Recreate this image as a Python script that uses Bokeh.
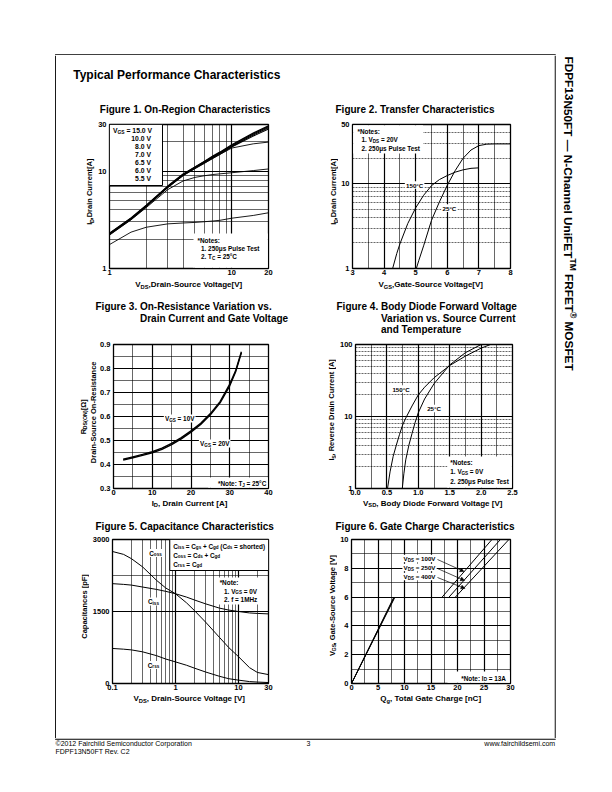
import math
from bokeh.plotting import figure
from bokeh.layouts import column, row
from bokeh.models import (Range1d, LinearScale, FixedTicker, Grid,
                          ColumnDataSource, Arrow, NormalHead)
from bokeh.core.properties import value, field
from bokeh.embed import file_html
from bokeh.resources import INLINE

FONT = "Liberation Sans"
NAN = float("nan")

# ============================ DATA ============================
# Figure 1 - On-Region Characteristics (VDS [V] vs ID [A])
f1_vds = [1, 1.5, 2, 3, 4, 5, 6, 7, 8, 10, 15, 20]
f1_id_15v0 = [2.30, 3.30, 4.45, 7.00, 9.30, 11.0, 12.6, 14.2, 15.6, 18.6, 24.5, 29.0]
f1_id_10v0 = [2.28, 3.27, 4.41, 6.95, 9.22, 10.9, 12.5, 14.0, 15.4, 18.3, 24.0, 28.4]
f1_id_8v0 = [2.26, 3.24, 4.37, 6.88, 9.12, 10.8, 12.3, 13.8, 15.2, 17.9, 23.4, 27.8]
f1_id_7v0 = [2.25, 3.22, 4.33, 6.82, 9.02, 10.65, 12.15, 13.55, 14.85, 17.6, 22.8, 27.0]
f1_id_6v5 = [2.22, 3.18, 4.30, 6.75, 8.95, 10.55, 12.0, 13.5, 14.8, 17.2, 19.0, 19.8]
f1_id_6v0 = [2.20, 3.15, 4.22, 6.45, 7.90, 8.60, 8.95, 9.20, 9.35, 9.60, 10.1, 10.5]
f1_id_5v5 = [1.76, 2.36, 2.65, 2.87, 2.93, 2.97, 3.02, 3.07, 3.12, 3.28, 3.50, 3.73]
f1_legend = ["15.0 V", "10.0 V", "8.0 V", "7.0 V", "6.5 V", "6.0 V", "5.5 V"]
f1_xticks = [1, 10, 20]
f1_xlabels = ["1", "10", "20"]
f1_yticks = [1, 10, 30]
f1_ylabels = ["1", "10", "30"]

# Figure 2 - Transfer Characteristics (VGS [V] vs ID [A])
f2_vgs_25c = [5.02, 5.1, 5.25, 5.5, 5.75, 6.0, 6.25, 6.5, 6.75, 7.0, 7.25, 7.5, 8.0]
f2_id_25c = [1.0, 1.25, 1.85, 3.7, 6.1, 9.6, 14.3, 20.0, 25.0, 28.2, 29.3, 29.5, 29.5]
f2_vgs_150c = [4.27, 4.4, 4.5, 4.75, 5.0, 5.25, 5.5, 5.75, 6.0, 6.25, 6.5, 6.75, 7.0]
f2_id_150c = [1.0, 1.5, 1.95, 3.4, 5.2, 7.3, 9.5, 11.2, 12.5, 13.7, 14.6, 15.2, 15.4]
f2_xticks = [3, 4, 5, 6, 7, 8]
f2_xlabels = ["3", "4", "5", "6", "7", "8"]
f2_yticks = [1, 10, 50]
f2_ylabels = ["1", "10", "50"]

# Figure 3 - On-Resistance vs Drain Current (ID [A] vs RDS(on) [ohm])
f3_id = [2.5, 5, 7.5, 10, 12.5, 15, 17.5, 20, 22.5, 25, 27.5, 30, 31.5, 33]
f3_r_10v = [0.422, 0.432, 0.442, 0.453, 0.468, 0.488, 0.512, 0.540, 0.572, 0.612, 0.662, 0.735, 0.790, 0.870]
f3_r_20v = [0.418, 0.428, 0.438, 0.449, 0.463, 0.483, 0.507, 0.535, 0.567, 0.607, 0.657, 0.728, 0.785, 0.865]
f3_xticks = [0, 10, 20, 30, 40]
f3_xlabels = ["0", "10", "20", "30", "40"]
f3_yticks = [0.3, 0.4, 0.5, 0.6, 0.7, 0.8, 0.9]
f3_ylabels = ["0.3", "0.4", "0.5", "0.6", "0.7", "0.8", "0.9"]

# Figure 4 - Body Diode Forward Voltage (VSD [V] vs IS [A])
f4_vsd_150c = [0.51, 0.55, 0.6, 0.65, 0.7, 0.75, 0.8, 0.9, 1.0, 1.1, 1.25, 1.5, 1.75, 2.0, 2.15]
f4_is_150c = [1.0, 1.7, 2.8, 4.0, 5.6, 7.6, 9.5, 14.0, 20.0, 25.5, 34.5, 51.0, 69.0, 89.0, 100.0]
f4_vsd_25c = [0.745, 0.77, 0.8, 0.85, 0.9, 0.95, 1.0, 1.1, 1.25, 1.5, 1.75, 2.0]
f4_is_25c = [1.0, 1.6, 2.5, 4.0, 5.8, 8.3, 11.3, 17.5, 28.5, 52.0, 77.0, 100.0]
f4_xticks = [0.0, 0.5, 1.0, 1.5, 2.0, 2.5]
f4_xlabels = ["0.0", "0.5", "1.0", "1.5", "2.0", "2.5"]
f4_yticks = [1, 10, 100]
f4_ylabels = ["1", "10", "100"]

# Figure 5 - Capacitance Characteristics (VDS [V] vs C [pF])
f5_vds = [0.1, 0.15, 0.2, 0.3, 0.5, 0.7, 1, 1.5, 2, 3, 5, 7, 10, 15, 20, 30]
f5_ciss = [2080, 2065, 2050, 2010, 1960, 1920, 1870, 1800, 1740, 1660, 1570, 1530, 1500, 1470, 1460, 1450]
f5_coss = [2750, 2690, 2600, 2430, 2150, 1990, 1870, 1680, 1520, 1280, 960, 750, 560, 330, 230, 185]
f5_crss = [730, 715, 700, 660, 580, 510, 450, 380, 320, 240, 150, 100, 70, 40, 30, 20]
f5_xticks = [0.1, 1, 10, 30]
f5_xlabels = ["0.1", "1", "10", "30"]
f5_yticks = [0, 1500, 3000]
f5_ylabels = ["0", "1500", "3000"]

# Figure 6 - Gate Charge Characteristics (Qg [nC] vs VGS [V])
f6_q_100v = [0, 8.0, NAN, 17.1, 26.5]
f6_q_250v = [0, 8.1, NAN, 18.4, 28.1]
f6_q_400v = [0, 8.2, NAN, 19.6, 29.7]
f6_vgs = [0, 6, NAN, 6, 10]
f6_legend = ["100V", "250V", "400V"]
f6_xticks = [0, 5, 10, 15, 20, 25, 30]
f6_xlabels = ["0", "5", "10", "15", "20", "25", "30"]
f6_yticks = [0, 2, 4, 6, 8, 10]
f6_ylabels = ["0", "2", "4", "6", "8", "10"]

# ============================ TEXT HELPERS ============================
def _table(groups):
    d = {}
    for chars, w in groups:
        for c in chars:
            d[c] = w
    return d

REG_W = _table([
    (" ,.:;!/[]tfI", 278), ("ijl", 222), ("-r()", 333), ("*", 389), ("°", 400),
    ("cksvxyzJ", 500), ("0123456789abdeghnopquL?", 556), ("μ", 577), ("+=", 584),
    ("FTZ", 611), ("ABEKPSVXY", 667), ("CDHNRUw", 722), ("©®", 737), ("Ω", 768),
    ("GOQ", 778), ("Mm", 833), ("W", 944), ("—™", 1000)])
BOLD_W = _table([
    (" ,.ijlI!/", 278), ("-()[]:;tf", 333), ("r*", 389), ("°", 400), ("z", 500),
    ("0123456789aceksvxyJ?", 556), ("+=", 584), ("bdghnopquFLTZμ", 611),
    ("EPSVXY", 667), ("ABCDHKNRU", 722), ("©®", 737), ("Ω", 768), ("GOQw", 778),
    ("M", 833), ("m", 889), ("W", 944), ("—™", 1000)])


def tw(s, size, bold):
    t = BOLD_W if bold else REG_W
    return sum(t.get(c, 556) for c in s) * size / 1000.0


class Layer:
    """Texts and boxes given in page pixel coordinates, stored relative to an origin."""

    def __init__(self, ox, oy):
        self.ox, self.oy = ox, oy
        self.t = {k: [] for k in ("x", "y", "text", "size", "style", "angle")}
        self.b = {k: [] for k in ("left", "right", "top", "bottom")}
        self.bb = {k: [] for k in ("left", "right", "top", "bottom")}
        self.k = {k: [] for k in ("left", "right", "top", "bottom")}

    def box(self, x0, y0, x1, y1, border=False, black=False):
        d = self.k if black else (self.bb if border else self.b)
        d["left"].append(x0 - self.ox)
        d["right"].append(x1 - self.ox)
        d["top"].append(y0 - self.oy)
        d["bottom"].append(y1 - self.oy)

    def text(self, x, y, parts, size, bold=True, align="left", angle=0.0, bg=False):
        if isinstance(parts, str):
            parts = [(parts, "n")]
        ss = size * 0.72
        ws = [tw(t, size if k == "n" else ss, bold) for t, k in parts]
        W = sum(ws)
        pos = {"left": 0.0, "center": -W / 2.0, "right": -W}[align]
        dx, dy = math.cos(angle), -math.sin(angle)
        ux, uy = -math.sin(angle), -math.cos(angle)
        if bg:
            self.box(x + pos - 1.2, y - size * 0.62, x + pos + W + 1.2, y + size * 0.62)
        for (t, k), w in zip(parts, ws):
            s = size if k == "n" else ss
            sh = 0.0 if k == "n" else (-0.30 * size if k == "b" else 0.36 * size)
            # SVG drops leading blanks: advance past them instead
            lead = len(t) - len(t.lstrip(" "))
            adv = tw(" " * lead, s, bold)
            txt = t.strip(" ")
            if txt:
                self.t["x"].append(x - self.ox + dx * (pos + adv) + ux * sh)
                self.t["y"].append(y - self.oy + dy * (pos + adv) + uy * sh)
                self.t["text"].append(txt)
                self.t["size"].append("%.2fpx" % s)
                self.t["style"].append("bold" if bold else "normal")
                self.t["angle"].append(angle)
            pos += w

    def draw(self, p, rn=None):
        kw = {"x_range_name": rn, "y_range_name": rn} if rn else {}
        if self.k["left"]:
            p.quad(source=ColumnDataSource(self.k), left="left", right="right",
                   top="top", bottom="bottom", fill_color="black", line_color=None, **kw)
        if self.b["left"]:
            p.quad(source=ColumnDataSource(self.b), left="left", right="right",
                   top="top", bottom="bottom", fill_color="white", line_color=None, **kw)
        if self.bb["left"]:
            p.quad(source=ColumnDataSource(self.bb), left="left", right="right",
                   top="top", bottom="bottom", fill_color="white", line_color="black",
                   line_width=1.0, **kw)
        if self.t["x"]:
            p.text(source=ColumnDataSource(self.t), x="x", y="y", text="text",
                   text_font=value(FONT), text_font_size=field("size"),
                   text_font_style=field("style"), angle="angle",
                   text_align="left", text_baseline="middle", text_color="black", **kw)


def text_fig(layer, w, h):
    p = figure(width=w, height=h, x_range=Range1d(0, w), y_range=Range1d(h, 0),
               min_border=0, toolbar_location=None, output_backend="svg",
               x_axis_location=None, y_axis_location=None, outline_line_color=None,
               background_fill_color="white", border_fill_color="white")
    p.grid.visible = False
    if layer is not None:
        layer.draw(p)
    return p


TB, BB = 6, 10


def ticks_map(ticks, labels):
    return {t: l for t, l in zip(ticks, labels)}


def make_chart(G, xr, yr, xtype, ytype, xt, xl, yt, yl, xg, xG, yg, yG, ydash="solid"):
    fx0, fy0, fx1, fy1 = G["frame"]
    fw, fh = fx1 - fx0, fy1 - fy0
    LB, cx1 = G["LB"], G["cx1"]
    p = figure(width=cx1 - (fx0 - LB), height=TB + fh + BB,
               x_range=Range1d(*xr), y_range=Range1d(*yr),
               x_axis_type=xtype, y_axis_type=ytype,
               min_border_left=LB, min_border_right=cx1 - fx1,
               min_border_top=TB, min_border_bottom=BB,
               toolbar_location=None, output_backend="svg",
               outline_line_color="black", outline_line_width=1.3,
               background_fill_color="white", border_fill_color="white")
    p.extra_x_ranges = {"px": Range1d(0, fw)}
    p.extra_y_ranges = {"px": Range1d(fh, 0)}
    p.extra_x_scales = {"px": LinearScale()}
    p.extra_y_scales = {"px": LinearScale()}
    for ax in p.axis:
        ax.axis_line_color = None
        ax.major_tick_line_color = None
        ax.minor_tick_line_color = None
        ax.major_tick_out = 0
        ax.major_tick_in = 0
        ax.major_label_text_font = FONT
        ax.major_label_text_font_size = "7.5px"
        ax.major_label_text_font_style = "bold"
        ax.major_label_text_color = "black"
    p.xaxis.ticker = FixedTicker(ticks=xt)
    p.xaxis.major_label_overrides = ticks_map(xt, xl)
    p.xaxis.major_label_standoff = 1
    p.yaxis.ticker = FixedTicker(ticks=yt)
    p.yaxis.major_label_overrides = ticks_map(yt, yl)
    p.yaxis.major_label_standoff = 3
    p.xgrid.ticker = FixedTicker(ticks=xg)
    p.ygrid.ticker = FixedTicker(ticks=yg)
    p.xgrid.grid_line_color = "black"
    p.xgrid.grid_line_width = 0.6
    p.ygrid.grid_line_color = "black"
    p.ygrid.grid_line_width = 0.6
    p.ygrid.grid_line_dash = ydash
    p.add_layout(Grid(dimension=0, ticker=FixedTicker(ticks=xG),
                      grid_line_color="black", grid_line_width=1.2))
    p.add_layout(Grid(dimension=1, ticker=FixedTicker(ticks=yG),
                      grid_line_color="black", grid_line_width=1.2))
    return p


def layers(G):
    fx0, fy0, fx1, fy1 = G["frame"]
    return (Layer(G["cx0"], G["ry0"]), Layer(G["cx0"], fy0 - TB),
            Layer(G["cx0"], fy1 + BB), Layer(fx0, fy0), Layer(fx0, fy0))


def assemble(G, tl, yl, xl, chart):
    fx0, fy0, fx1, fy1 = G["frame"]
    cw = G["cx1"] - G["cx0"]
    return column(
        text_fig(tl, cw, fy0 - TB - G["ry0"]),
        row(text_fig(yl, fx0 - G["LB"] - G["cx0"], TB + (fy1 - fy0) + BB), chart),
        text_fig(xl, cw, G["ry1"] - fy1 - BB),
    )


def sub(a, b, c):
    return [(a, "n"), (b, "b"), (c, "n")]


HALF_PI = math.pi / 2

# ============================ FIGURE 1 ============================
G1 = dict(cx0=56, cx1=305, ry0=100, ry1=290, frame=(109, 124, 268, 268), LB=14)
tl, yl, xl, u, o = layers(G1)
tl.text(99.3, 108.5, "Figure 1. On-Region Characteristics", 10)
yl.text(89, 196, sub("I", "D", ",Drain Current[A]"), 7.5, align="center", angle=HALF_PI)
xl.text(188.5, 284, sub("V", "DS", ",Drain-Source Voltage[V]"), 8, align="center")
p1 = make_chart(G1, (1, 20), (1, 30), "log", "log", f1_xticks, f1_xlabels, f1_yticks, f1_ylabels,
                [2, 3, 4, 5, 6, 7, 8, 9], [10], [2, 3, 4, 5, 6, 7, 8, 9, 20], [10])
u.box(109, 124, 162, 185, border=True)
u.text(112.5, 129.5, sub("V", "GS", " = " + f1_legend[0]), 6.8)
for lab, yy in zip(f1_legend[1:], [138.3, 146.3, 154.3, 162.3, 170.3, 178.3]):
    u.text(150.5, yy, lab, 6.8, align="right")
u.box(193, 233, 267.3, 267.3)
u.text(197, 240, "*Notes:", 6.4)
u.text(200.5, 248, "1. 250μs Pulse Test", 6.4)
u.text(200.5, 256, sub("2. T", "C", " = 25°C"), 6.4)
u.draw(p1, "px")
for ys, w in [(f1_id_15v0, 1.3), (f1_id_10v0, 1.2), (f1_id_8v0, 1.2), (f1_id_7v0, 1.1),
              (f1_id_6v5, 0.9), (f1_id_6v0, 0.9), (f1_id_5v5, 0.9)]:
    p1.line(f1_vds, ys, line_color="black", line_width=w)
cell1 = assemble(G1, tl, yl, xl, p1)

# ============================ FIGURE 2 ============================
G2 = dict(cx0=305, cx1=554, ry0=100, ry1=290, frame=(351, 124, 510, 268), LB=13)
tl, yl, xl, u, o = layers(G2)
tl.text(335, 108.5, "Figure 2. Transfer Characteristics", 10)
yl.text(333, 196, sub("I", "D", ",Drain Current[A]"), 7.5, align="center", angle=HALF_PI)
xl.text(430.5, 284, sub("V", "GS", ",Gate-Source Voltage[V]"), 8, align="center")
p2 = make_chart(G2, (3, 8), (1, 50), "linear", "log", f2_xticks, f2_xlabels, f2_yticks, f2_ylabels,
                [3.5, 4.5, 5.5, 6.5, 7.5], [4, 5, 6, 7],
                [2, 3, 4, 5, 6, 7, 8, 9, 20, 30, 40], [10], ydash="2 1")
u.box(351.7, 124.7, 422, 153)
u.text(356, 130.5, "*Notes:", 6.4)
u.text(360, 139, sub("1. V", "DS", " = 20V"), 6.4)
u.text(360, 147.5, "2. 250μs Pulse Test", 6.4)
u.draw(p2, "px")
p2.line(f2_vgs_150c, f2_id_150c, line_color="black", line_width=1.0)
p2.line(f2_vgs_25c, f2_id_25c, line_color="black", line_width=1.0)
o.text(413.5, 184.5, "150°C", 6.2, align="center", bg=True)
o.text(448.5, 207.7, "25°C", 6.2, align="center", bg=True)
o.draw(p2, "px")
cell2 = assemble(G2, tl, yl, xl, p2)

# ============================ FIGURE 3 ============================
G3 = dict(cx0=56, cx1=305, ry0=290, ry1=510, frame=(111, 344, 268, 488), LB=14)
tl, yl, xl, u, o = layers(G3)
tl.text(95, 306, "Figure 3. On-Resistance Variation vs.", 10)
tl.text(139.5, 317.5, "Drain Current and Gate Voltage", 10)
yl.text(82.5, 419, sub("R", "DS(ON)", " [Ω]"), 7.5, align="center", angle=HALF_PI)
yl.text(93, 419, "Drain-Source On-Resistance", 7.5, align="center", angle=HALF_PI)
xl.text(189, 502.5, sub("I", "D", ", Drain Current [A]"), 8, align="center")
p3 = make_chart(G3, (0, 40), (0.3, 0.9), "linear", "linear", f3_xticks, f3_xlabels, f3_yticks, f3_ylabels,
                [5, 15, 25, 35], [10, 20, 30],
                [0.35, 0.45, 0.55, 0.65, 0.75, 0.85], [0.4, 0.5, 0.6, 0.7, 0.8])
u.box(207, 477, 267.3, 487.3)
u.text(265.5, 483, sub("*Note: T", "J", " = 25°C"), 6.4, align="right")
u.draw(p3, "px")
p3.line(f3_id, f3_r_10v, line_color="black", line_width=1.4)
p3.line(f3_id, f3_r_20v, line_color="black", line_width=1.4)
o.text(178, 418, sub("V", "GS", " = 10V"), 6.4, align="center", bg=True)
o.text(213.5, 443, sub("V", "GS", " = 20V"), 6.4, align="center", bg=True)
o.draw(p3, "px")
cell3 = assemble(G3, tl, yl, xl, p3)

# ============================ FIGURE 4 ============================
G4 = dict(cx0=305, cx1=554, ry0=290, ry1=510, frame=(353, 344, 512, 488), LB=17)
tl, yl, xl, u, o = layers(G4)
tl.text(336, 306, "Figure 4. Body Diode Forward Voltage", 10)
tl.text(380.5, 317.5, "Variation vs. Source Current", 10)
tl.text(380.5, 329, "and Temperature", 10)
yl.text(331, 416, sub("I", "S", ", Reverse Drain Current [A]"), 7.5, align="center", angle=HALF_PI)
xl.text(432.5, 502.5, sub("V", "SD", ", Body Diode Forward Voltage [V]"), 8, align="center")
p4 = make_chart(G4, (0, 2.5), (1, 100), "linear", "log", f4_xticks, f4_xlabels, f4_yticks, f4_ylabels,
                [0.25, 0.75, 1.25, 1.75, 2.25], [0.5, 1.0, 1.5, 2.0],
                [2, 3, 4, 5, 6, 7, 8, 9, 20, 30, 40, 50, 60, 70, 80, 90], [10], ydash="2 1")
u.box(446, 456, 511.3, 487.3)
u.text(449, 461.5, "*Notes:", 6.4)
u.text(449, 471, sub("1. V", "GS", " = 0V"), 6.4)
u.text(449, 480.5, "2. 250μs Pulse Test", 6.4)
u.draw(p4, "px")
p4.line(f4_vsd_150c, f4_is_150c, line_color="black", line_width=1.0)
p4.line(f4_vsd_25c, f4_is_25c, line_color="black", line_width=1.0)
o.text(399, 388.5, "150°C", 6.2, align="center", bg=True)
o.text(432.5, 408, "25°C", 6.2, align="center", bg=True)
o.draw(p4, "px")
cell4 = assemble(G4, tl, yl, xl, p4)

# ============================ FIGURE 5 ============================
G5 = dict(cx0=56, cx1=305, ry0=510, ry1=738, frame=(110, 539, 268, 683), LB=21)
tl, yl, xl, u, o = layers(G5)
tl.text(95, 525.5, "Figure 5. Capacitance Characteristics", 10)
yl.text(84, 611, "Capacitances [pF]", 7.5, align="center", angle=HALF_PI)
xl.text(189, 698, sub("V", "DS", ", Drain-Source Voltage [V]"), 8, align="center")
p5 = make_chart(G5, (0.1, 30), (0, 3000), "log", "linear", f5_xticks, f5_xlabels, f5_yticks, f5_ylabels,
                [0.2, 0.3, 0.4, 0.5, 0.6, 0.7, 0.8, 0.9, 2, 3, 4, 5, 6, 7, 8, 9, 20], [1, 10],
                [2250], [1500])
u.box(168, 539, 268, 570, border=True)
u.text(171.5, 545.5, [("C", "n"), ("iss", "b"), (" = C", "n"), ("gs", "b"), (" + C", "n"),
                      ("gd", "b"), (" (C", "n"), ("ds", "b"), (" = shorted)", "n")], 6.4)
u.text(171.5, 554.5, [("C", "n"), ("oss", "b"), (" = C", "n"), ("ds", "b"), (" + C", "n"), ("gd", "b")], 6.4)
u.text(171.5, 563.5, [("C", "n"), ("rss", "b"), (" = C", "n"), ("gd", "b")], 6.4)
u.box(216, 577, 266, 604)
u.text(218.5, 582, "*Note:", 6.4)
u.text(223, 590.5, sub("1. V", "GS", " = 0V"), 6.4)
u.text(223, 599, "2. f = 1MHz", 6.4)
u.draw(p5, "px")
for ys in (f5_ciss, f5_coss, f5_crss):
    p5.line(f5_vds, ys, line_color="black", line_width=1.0)
o.text(153.5, 552.5, [("C", "n"), ("oss", "b")], 6.4, align="center", bg=True)
o.text(151.5, 601, [("C", "n"), ("iss", "b")], 6.4, align="center", bg=True)
o.text(151.5, 664.5, [("C", "n"), ("rss", "b")], 6.4, align="center", bg=True)
o.draw(p5, "px")
cell5 = assemble(G5, tl, yl, xl, p5)

# ============================ FIGURE 6 ============================
G6 = dict(cx0=305, cx1=554, ry0=510, ry1=738, frame=(351, 539, 510, 683), LB=14)
tl, yl, xl, u, o = layers(G6)
tl.text(335, 525.5, "Figure 6. Gate Charge Characteristics", 10)
yl.text(331.5, 611, sub("V", "GS", ", Gate-Source Voltage [V]"), 7.5, align="center", angle=HALF_PI)
xl.text(430.5, 698, sub("Q", "g", ", Total Gate Charge [nC]"), 8, align="center")
p6 = make_chart(G6, (0, 30), (0, 10), "linear", "linear", f6_xticks, f6_xlabels, f6_yticks, f6_ylabels,
                [2.5, 7.5, 12.5, 17.5, 22.5, 27.5], [5, 10, 15, 20, 25],
                [1, 3, 5, 7, 9], [2, 4, 6, 8])
u.box(447, 671, 509.3, 682.3)
u.text(505.5, 677.5, sub("*Note: I", "D", " = 13A"), 6.4, align="right")
u.draw(p6, "px")
for qs in (f6_q_100v, f6_q_250v, f6_q_400v):
    p6.line(qs, f6_vgs, line_color="black", line_width=1.0)
for lab, yy in zip(f6_legend, [558, 567, 576]):
    o.text(435, yy, sub("V", "DS", " = " + lab), 6.2, align="right", bg=True)
o.draw(p6, "px")
for (ys, xe, ye) in [(559, 463.5, 571), (568, 464, 580), (577, 464.5, 588)]:
    p6.add_layout(Arrow(x_start=437 - 351, y_start=ys - 539, x_end=xe - 351, y_end=ye - 539,
                        x_range_name="px", y_range_name="px", line_color="black", line_width=0.7,
                        end=NormalHead(size=4, fill_color="black", line_color="black", line_width=0.5)))
cell6 = assemble(G6, tl, yl, xl, p6)

# ============================ PAGE ============================
# page border: x 54.6..555.2, y 53.8..739.2 (drawn in the surrounding margin figures)
top = Layer(0, 0)
top.box(54.6, 53.8, 555.2, 55, black=True)

leftpad = Layer(0, 55)
leftpad.box(54.6, 55, 55.8, 738, black=True)

head = Layer(56, 55)
head.text(72.7, 74.5, "Typical Performance Characteristics", 12)

side = Layer(554, 55)
side.box(554, 55, 555.2, 738, black=True)
side.text(568, 56, [("FDPF13N50FT — N-Channel UniFET", "n"), ("TM", "p"), (" FRFET", "n"),
                    ("®", "p"), (" MOSFET", "n")], 11.8, bold=True, angle=-HALF_PI)

foot = Layer(0, 738)
foot.box(54.6, 738, 555.2, 739.2, black=True)
foot.text(55, 742.5, "©2012 Fairchild Semiconductor Corporation", 7, bold=False)
foot.text(55, 751, "FDPF13N50FT Rev. C2", 7, bold=False)
foot.text(308, 742.5, "3", 7, bold=False, align="center")
foot.text(555, 742.5, "www.fairchildsemi.com", 7, bold=False, align="right")

inner = column(
    text_fig(head, 498, 45),
    row(cell1, cell2),
    row(cell3, cell4),
    row(cell5, cell6),
)

page = column(
    text_fig(top, 604, 55),
    row(text_fig(leftpad, 56, 683), inner, text_fig(side, 50, 683)),
    text_fig(foot, 604, 46),
)

open("out.html", "w").write(file_html(page, INLINE, title="FDPF13N50FT Typical Performance Characteristics"))
